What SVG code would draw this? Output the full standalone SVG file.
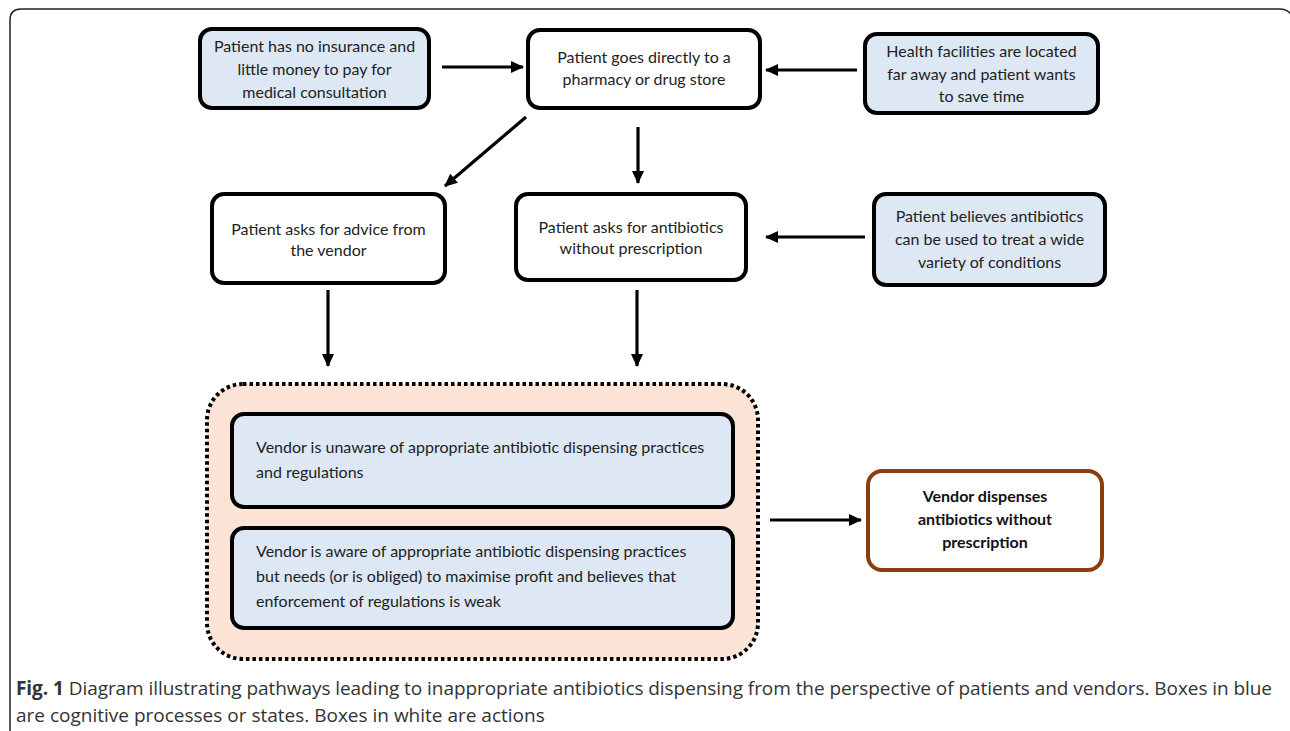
<svg xmlns="http://www.w3.org/2000/svg" width="1290" height="731" viewBox="0 0 1290 731">
<style>
.box{stroke:#000;stroke-width:4}
.blue{fill:#dde8f4}
.white{fill:#fff}
.t{font-family:Lato,"Open Sans",sans-serif;font-size:16px;fill:#222;text-anchor:middle}
.tl{font-family:Lato,"Open Sans",sans-serif;font-size:16px;fill:#222}
.tb{font-family:Lato,"Open Sans",sans-serif;font-size:16px;fill:#111;text-anchor:middle;font-weight:bold}
.conn{stroke:#000;stroke-width:3.2;fill:none;marker-end:url(#ah)}
.cap{font-family:"Open Sans","Noto Sans",sans-serif;font-size:19px;fill:#333}
</style>
<defs>
<marker id="ah" markerUnits="userSpaceOnUse" markerWidth="14" markerHeight="12" refX="12" refY="6" orient="auto">
<path d="M0,0 L13,6 L0,12 z" fill="#000"/>
</marker>
</defs>
<rect width="1290" height="731" fill="#fff"/>
<path d="M10,735 L10,20 Q10,9 21,9 L1280,9 Q1288,9 1292,16" fill="none" stroke="#222" stroke-width="1.5"/>

<g id="n1"><rect class="box blue" x="200" y="29" width="229" height="79" rx="12"/>
<text class="t" x="314.5" y="52">Patient has no insurance and</text>
<text class="t" x="314.5" y="75">little money to pay for</text>
<text class="t" x="314.5" y="98">medical consultation</text></g>

<g id="n2"><rect class="box white" x="528" y="30" width="232" height="78" rx="12"/>
<text class="t" x="644" y="63">Patient goes directly to a</text>
<text class="t" x="644" y="85">pharmacy or drug store</text></g>

<g id="n3"><rect class="box blue" x="865" y="34" width="233" height="79" rx="12"/>
<text class="t" x="981.5" y="57">Health facilities are located</text>
<text class="t" x="981.5" y="80">far away and patient wants</text>
<text class="t" x="981.5" y="102">to save time</text></g>

<g id="n4"><rect class="box white" x="212" y="194" width="233" height="89" rx="12"/>
<text class="t" x="328.5" y="235">Patient asks for advice from</text>
<text class="t" x="328.5" y="256">the vendor</text></g>

<g id="n5"><rect class="box white" x="516" y="194" width="230" height="86" rx="12"/>
<text class="t" x="631" y="233">Patient asks for antibiotics</text>
<text class="t" x="631" y="254">without prescription</text></g>

<g id="n6"><rect class="box blue" x="874" y="194" width="231" height="91" rx="12"/>
<text class="t" x="989.5" y="222">Patient believes antibiotics</text>
<text class="t" x="989.5" y="245">can be used to treat a wide</text>
<text class="t" x="989.5" y="268">variety of conditions</text></g>

<g id="group"><rect x="207" y="384" width="551" height="275" rx="36" fill="#fbe3d6" stroke="#000" stroke-width="4" stroke-dasharray="3.5 3"/></g>

<g id="n7"><rect class="box blue" x="232" y="414" width="501" height="93" rx="12"/>
<text class="tl" x="256" y="453">Vendor is unaware of appropriate antibiotic dispensing practices</text>
<text class="tl" x="256" y="478">and regulations</text></g>

<g id="n8"><rect class="box blue" x="232" y="528" width="501" height="100" rx="12"/>
<text class="tl" x="256" y="557">Vendor is aware of appropriate antibiotic dispensing practices</text>
<text class="tl" x="256" y="582">but needs (or is obliged) to maximise profit and believes that</text>
<text class="tl" x="256" y="607">enforcement of regulations is weak</text></g>

<g id="n9"><rect x="868" y="471" width="234" height="99" rx="14" fill="#fff" stroke="#8b3d10" stroke-width="4"/>
<text class="tb" x="985" y="502">Vendor dispenses</text>
<text class="tb" x="985" y="525">antibiotics without</text>
<text class="tb" x="985" y="548">prescription</text></g>

<g id="connectors">
<line class="conn" x1="442" y1="67" x2="523" y2="67"/>
<line class="conn" x1="857" y1="70" x2="766" y2="70"/>
<line class="conn" x1="526" y1="117" x2="445" y2="186"/>
<line class="conn" x1="638" y1="127" x2="638" y2="183"/>
<line class="conn" x1="865" y1="237" x2="766" y2="237"/>
<line class="conn" x1="328" y1="290" x2="328" y2="366"/>
<line class="conn" x1="637" y1="290" x2="637" y2="366"/>
<line class="conn" x1="770" y1="520" x2="861" y2="520"/>
</g>

<text class="cap" x="16" y="695" textLength="1256" lengthAdjust="spacing"><tspan font-weight="bold">Fig. 1</tspan> Diagram illustrating pathways leading to inappropriate antibiotics dispensing from the perspective of patients and vendors. Boxes in blue</text>
<text class="cap" x="16" y="721.5">are cognitive processes or states. Boxes in white are actions</text>
</svg>
